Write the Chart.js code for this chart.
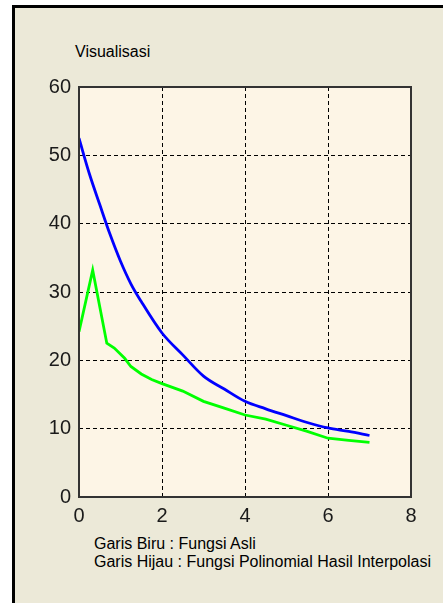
<!DOCTYPE html>
<html>
<head>
<meta charset="utf-8">
<script src="https://cdn.jsdelivr.net/npm/chart.js"></script>
<style>
  html, body { margin: 0; padding: 0; background: #fff; overflow: hidden; }
  body { width: 443px; height: 603px; position: relative; }
  .frame {
    position: absolute; left: 12px; top: 5px; width: 600px; height: 800px;
    border-left: 3px solid #000; border-top: 3px solid #000;
    background: #ECE9D8;
  }
  .txt { position: absolute; font-family: 'Liberation Sans', Arial, sans-serif; font-size: 16px; color: #000; white-space: nowrap; }
  #title { left: 75px; top: 44px; line-height: 16px; }
  #caption { left: 94px; top: 535px; line-height: 18.4px; }
  canvas { position: absolute; left: 0; top: 0; }
</style>
</head>
<body>
<div class="frame"></div>
<div class="txt" id="title">Visualisasi</div>
<div class="txt" id="caption">Garis Biru : Fungsi Asli<br>Garis Hijau : Fungsi Polinomial Hasil Interpolasi</div>
<canvas id="chart" width="443" height="603"></canvas>
<script>
// values
const blueX = [0, 0.25, 0.5, 0.75, 1, 1.25, 1.5, 2, 2.5, 3, 3.5, 4, 4.5, 5, 5.5, 6, 6.5, 7];
const blueY = [52.5, 47.3, 42.8, 38.4, 34.5, 31.2, 28.6, 24.0, 20.8, 17.7, 15.8, 14.0, 12.9, 11.9, 10.9, 10.1, 9.6, 9.0];
const greenX = [0, 0.33, 0.67, 0.85, 1.1, 1.25, 1.5, 1.75, 2, 2.5, 3, 3.5, 4, 4.5, 5, 5.5, 6, 6.5, 7];
const greenY = [24.2, 33.2, 22.5, 21.8, 20.3, 19.1, 18.0, 17.2, 16.6, 15.5, 14.0, 13.0, 12.0, 11.4, 10.5, 9.6, 8.6, 8.3, 8.0];
const xTicks = [0, 2, 4, 6, 8];
const yTicks = [0, 10, 20, 30, 40, 50, 60];

const toPoints = (xs, ys) => xs.map((x, i) => ({ x, y: ys[i] }));

const plotBox = {
  id: 'plotBox',
  beforeDraw(chart) {
    const { ctx, chartArea: a } = chart;
    ctx.save();
    ctx.fillStyle = '#FDF5E6';
    ctx.fillRect(a.left, a.top, a.right - a.left, a.bottom - a.top);
    ctx.restore();
  },
  afterDatasetsDraw(chart) {
    const { ctx, chartArea: a } = chart;
    ctx.save();
    ctx.strokeStyle = '#333';
    ctx.lineWidth = 2;
    ctx.strokeRect(a.left, a.top, a.right - a.left, a.bottom - a.top);
    ctx.restore();
  }
};

const innerGrid = (ticks) => c => {
  const v = c.tick ? c.tick.value : null;
  return (v === ticks[0] || v === ticks[ticks.length - 1]) ? 'rgba(0,0,0,0)' : '#000';
};

new Chart(document.getElementById('chart'), {
  type: 'scatter',
  data: {
    datasets: [
      {
        data: toPoints(blueX, blueY),
        showLine: true,
        borderColor: '#0000FF',
        borderWidth: 2.8,
        pointRadius: 0,
        cubicInterpolationMode: 'monotone'
      },
      {
        data: toPoints(greenX, greenY),
        showLine: true,
        borderColor: '#00FF00',
        borderWidth: 2.8,
        pointRadius: 0,
        tension: 0
      }
    ]
  },
  options: {
    responsive: false,
    animation: false,
    layout: { padding: { top: 87, right: 32, left: 0, bottom: 66 } },
    plugins: { legend: { display: false }, tooltip: { enabled: false } },
    scales: {
      x: {
        type: 'linear',
        min: xTicks[0],
        max: xTicks[xTicks.length - 1],
        afterBuildTicks: s => { s.ticks = xTicks.map(v => ({ value: v })); },
        afterFit: s => { s.height = 40; },
        ticks: {
          color: '#1a1a1a',
          padding: 7,
          maxRotation: 0,
          font: { family: 'Liberation Sans', size: 20 }
        },
        grid: { color: innerGrid(xTicks), lineWidth: 1, drawTicks: false },
        border: { display: false, dash: [4, 3] }
      },
      y: {
        type: 'linear',
        min: yTicks[0],
        max: yTicks[yTicks.length - 1],
        afterBuildTicks: s => { s.ticks = yTicks.map(v => ({ value: v })); },
        afterFit: s => { s.width = 79; },
        ticks: {
          color: '#1a1a1a',
          padding: 8,
          font: { family: 'Liberation Sans', size: 20 }
        },
        grid: { color: innerGrid(yTicks), lineWidth: 1, drawTicks: false },
        border: { display: false, dash: [4, 3] }
      }
    }
  },
  plugins: [plotBox]
});
</script>
</body>
</html>
